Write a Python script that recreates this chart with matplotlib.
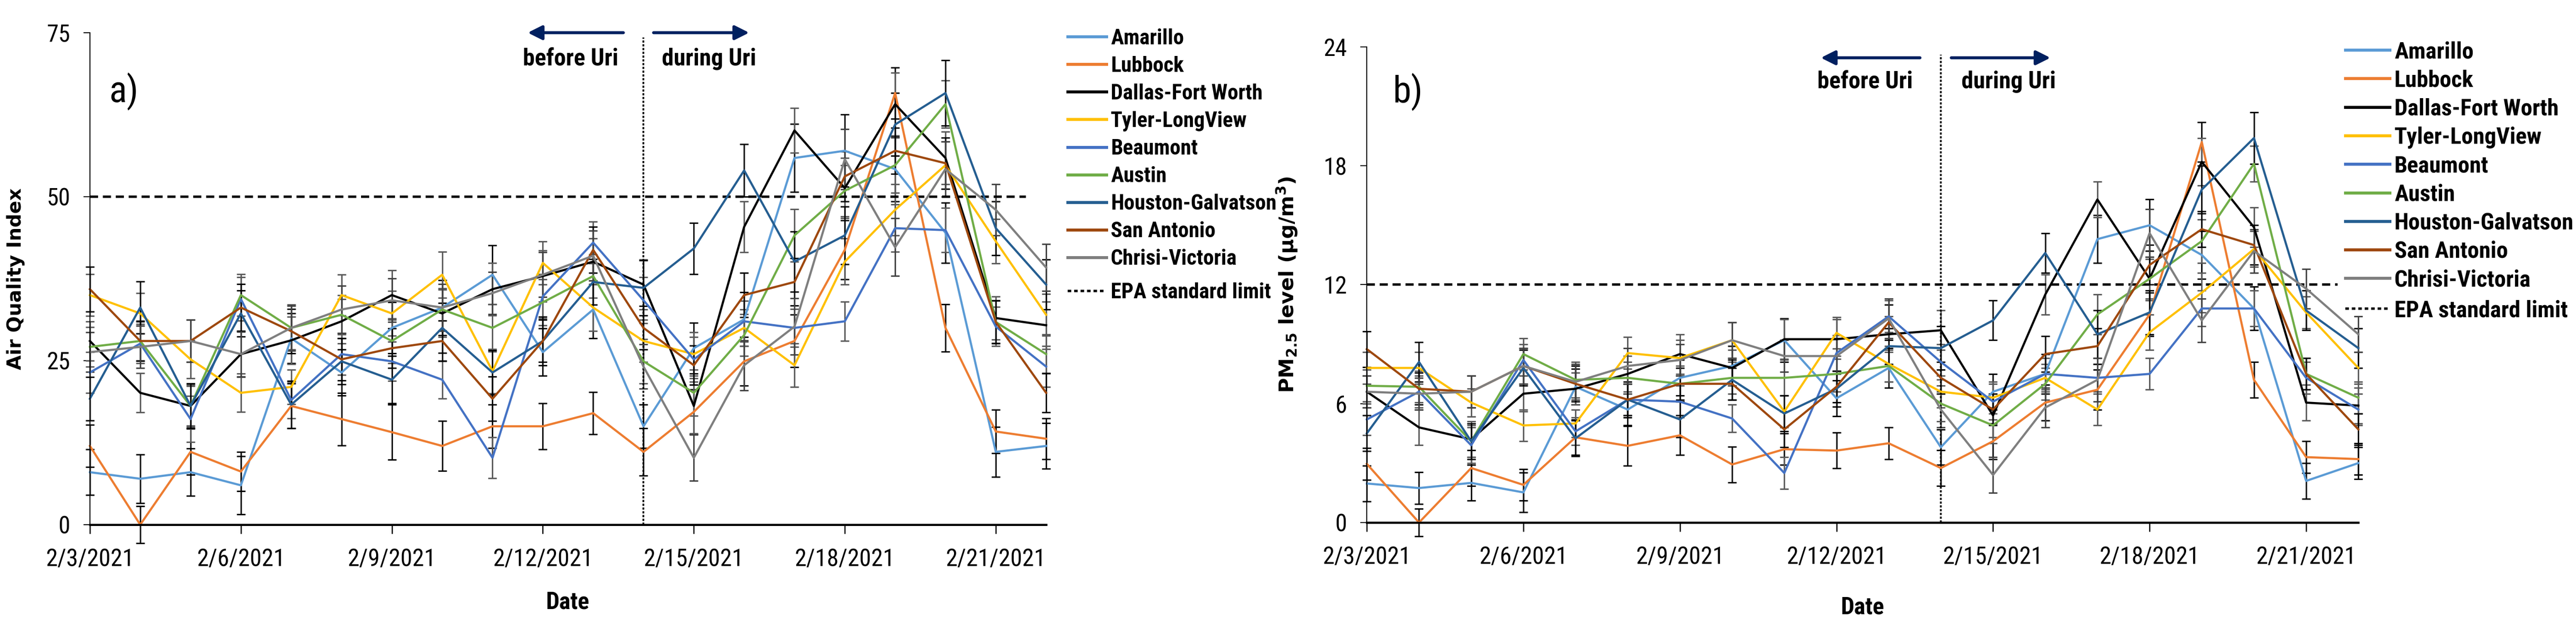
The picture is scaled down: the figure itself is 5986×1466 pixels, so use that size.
import matplotlib
matplotlib.use('Agg')
import matplotlib.pyplot as plt
from matplotlib.lines import Line2D
from matplotlib import font_manager

# pick a narrow font if one is installed, otherwise Liberation Sans at a smaller size
installed = {f.name for f in font_manager.fontManager.ttflist}
NARROW = ['Liberation Sans', 'DejaVu Sans']
SCALE = 0.85
for cand in ['Liberation Sans Narrow', 'Arial Narrow', 'Roboto Condensed', 'Open Sans Condensed']:
    if cand in installed:
        NARROW = [cand, 'DejaVu Sans']
        SCALE = 1.0
        break
WIDE = ['DejaVu Sans']


def fs(n):
    return n * SCALE


dates = ['2/3/2021', '2/4/2021', '2/5/2021', '2/6/2021', '2/7/2021', '2/8/2021', '2/9/2021',
         '2/10/2021', '2/11/2021', '2/12/2021', '2/13/2021', '2/14/2021', '2/15/2021', '2/16/2021',
         '2/17/2021', '2/18/2021', '2/19/2021', '2/20/2021', '2/21/2021', '2/22/2021']
cities = ['Amarillo', 'Lubbock', 'Dallas-Fort Worth', 'Tyler-LongView', 'Beaumont', 'Austin',
          'Houston-Galvatson', 'San Antonio', 'Chrisi-Victoria']
colors = ['#5B9BD5', '#ED7D31', '#000000', '#FFC000', '#4472C4', '#70AD47', '#255E91', '#9E480E', '#7F7F7F']
ecolors = ['#000000', '#000000', '#595959', '#595959', '#595959', '#595959', '#000000', '#000000', '#404040']

# a) air quality index
aqi = {
    'Amarillo':          [8.0, 7.0, 8.0, 6.0, 28.4, 23.2, 30.0, 33.1, 38.1, 26.3, 32.8, 15.0, 26.9, 31.3, 55.9, 57.0, 54.2, 44.5, 11.1, 12.0],
    'Lubbock':           [12.0, 0.0, 11.1, 8.1, 18.1, 16.1, 14.1, 12.0, 15.0, 15.0, 17.0, 11.1, 17.2, 24.9, 28.0, 41.9, 65.8, 30.0, 14.2, 13.1],
    'Dallas-Fort Worth': [28.0, 20.1, 18.1, 26.0, 28.1, 31.0, 35.0, 32.2, 35.9, 37.9, 40.1, 36.6, 18.1, 45.4, 60.1, 51.3, 64.1, 55.9, 31.5, 30.4],
    'Tyler-LongView':    [35.0, 32.2, 25.2, 20.1, 21.0, 35.0, 32.2, 38.1, 23.4, 39.9, 33.1, 28.0, 26.0, 30.0, 24.3, 40.1, 48.0, 54.8, 43.2, 32.0],
    'Beaumont':          [23.2, 27.6, 16.1, 34.4, 19.0, 26.0, 24.9, 22.1, 10.2, 34.8, 43.0, 34.2, 25.2, 31.0, 30.0, 31.0, 45.2, 44.9, 30.2, 24.1],
    'Austin':            [27.1, 28.0, 18.1, 35.0, 30.0, 32.0, 28.0, 32.8, 30.0, 33.9, 37.9, 24.9, 20.1, 28.9, 44.1, 50.9, 54.8, 64.1, 30.9, 26.0],
    'Houston-Galvatson': [19.2, 33.1, 18.1, 32.2, 18.3, 24.9, 22.1, 30.0, 23.2, 28.0, 37.0, 36.1, 42.1, 54.0, 40.1, 44.1, 61.0, 65.8, 45.2, 36.6],
    'San Antonio':       [35.9, 28.0, 28.0, 33.1, 29.5, 25.2, 26.9, 28.0, 19.2, 28.0, 41.9, 30.0, 24.3, 35.0, 37.0, 53.1, 57.0, 55.1, 30.9, 20.1],
    'Chrisi-Victoria':   [26.3, 27.1, 28.0, 26.0, 30.0, 32.8, 34.2, 33.1, 35.3, 38.1, 41.0, 24.1, 10.2, 24.3, 30.2, 55.7, 42.3, 54.2, 48.0, 39.2],
}
aqi_err = {
    'Amarillo':          [3.5, 3.7, 3.6, 4.4, 3.8, 3.5, 3.9, 4.2, 4.5, 3.6, 4.4, 3.3, 3.9, 4.1, 5.2, 5.5, 4.9, 4.6, 3.8, 3.5],
    'Lubbock':           [3.2, 2.8, 3.5, 3.0, 3.4, 4.0, 4.2, 3.8, 3.3, 3.5, 3.2, 3.6, 3.4, 3.7, 4.0, 4.5, 3.9, 3.6, 3.3, 3.1],
    'Dallas-Fort Worth': [3.0, 3.0, 3.2, 3.5, 3.6, 3.4, 3.8, 3.6, 4.0, 3.9, 3.5, 3.8, 4.2, 3.9, 3.4, 4.6, 4.8, 4.0, 3.3, 3.6],
    'Tyler-LongView':    [3.2, 3.1, 2.9, 2.9, 2.6, 3.1, 3.4, 3.5, 3.4, 3.3, 3.6, 3.2, 3.3, 2.8, 3.3, 3.5, 3.9, 3.6, 3.4, 3.2],
    'Beaumont':          [3.1, 3.0, 3.5, 3.3, 2.8, 3.2, 3.0, 2.9, 3.1, 3.4, 3.2, 3.5, 3.4, 3.1, 2.9, 3.0, 3.6, 3.4, 3.0, 3.1],
    'Austin':            [3.0, 3.1, 3.0, 3.2, 3.3, 3.0, 3.4, 3.2, 3.6, 3.5, 3.3, 3.4, 3.5, 3.2, 4.0, 3.9, 4.2, 3.6, 3.2, 3.0],
    'Houston-Galvatson': [3.3, 4.0, 3.4, 3.5, 3.6, 3.5, 3.6, 3.8, 3.4, 3.7, 3.5, 4.2, 3.9, 4.0, 4.6, 4.4, 4.8, 5.0, 4.1, 3.8],
    'San Antonio':       [3.4, 3.0, 3.2, 3.6, 3.4, 3.2, 3.0, 3.1, 3.4, 3.2, 3.5, 3.3, 3.0, 3.4, 3.6, 3.8, 3.5, 3.9, 3.3, 3.0],
    'Chrisi-Victoria':   [3.0, 3.2, 3.2, 3.4, 3.5, 3.6, 3.3, 3.6, 3.2, 3.4, 3.8, 3.4, 3.5, 3.8, 4.3, 4.6, 4.4, 4.2, 3.9, 3.6],
}

# b) PM2.5
pm = {
    'Amarillo':          [1.97, 1.74, 2.0, 1.52, 6.85, 5.7, 7.3, 7.9, 9.2, 6.27, 7.8, 3.8, 6.6, 7.5, 14.3, 15.0, 13.5, 10.8, 2.1, 3.0],
    'Lubbock':           [2.96, 0.0, 2.75, 1.9, 4.3, 3.87, 4.4, 2.93, 3.7, 3.63, 4.0, 2.75, 4.1, 6.05, 6.7, 10.5, 19.2, 7.2, 3.3, 3.2],
    'Dallas-Fort Worth': [6.6, 4.8, 4.2, 6.5, 6.75, 7.5, 8.5, 7.8, 9.25, 9.25, 9.5, 9.7, 5.4, 11.5, 16.3, 12.3, 18.2, 14.9, 6.05, 5.9],
    'Tyler-LongView':    [7.8, 7.8, 6.05, 4.9, 5.0, 8.55, 8.3, 9.2, 5.6, 9.57, 8.0, 6.6, 6.3, 7.3, 5.7, 9.6, 11.6, 13.8, 10.6, 7.8],
    'Beaumont':          [5.2, 6.6, 3.9, 8.2, 4.6, 6.2, 6.1, 5.25, 2.5, 8.55, 10.4, 8.1, 6.1, 7.5, 7.3, 7.5, 10.8, 10.8, 7.3, 5.7],
    'Austin':            [6.9, 6.85, 4.1, 8.5, 7.2, 7.3, 7.0, 7.3, 7.3, 7.5, 7.9, 6.0, 4.9, 7.0, 10.5, 12.3, 14.2, 18.1, 7.5, 6.3],
    'Houston-Galvatson': [4.5, 8.1, 4.1, 7.8, 4.25, 6.2, 5.2, 7.2, 5.5, 6.75, 8.9, 8.8, 10.2, 13.6, 9.5, 10.6, 16.8, 19.4, 10.7, 8.8],
    'San Antonio':       [8.75, 6.75, 6.6, 7.9, 7.0, 6.2, 7.0, 7.0, 4.7, 6.85, 10.1, 7.3, 5.7, 8.5, 8.9, 13.0, 14.8, 14.0, 7.5, 4.7],
    'Chrisi-Victoria':   [6.6, 6.5, 6.6, 7.9, 7.1, 7.9, 8.2, 9.2, 8.4, 8.4, 10.3, 5.7, 2.4, 5.8, 7.2, 14.6, 10.2, 13.7, 11.8, 9.5],
}
pm_err = {
    'Amarillo':          [0.9, 0.8, 0.9, 1.0, 0.9, 0.8, 0.9, 1.0, 1.1, 0.9, 1.0, 0.9, 0.9, 1.0, 1.2, 1.3, 1.2, 1.1, 0.9, 0.8],
    'Lubbock':           [0.8, 0.7, 0.9, 0.8, 0.9, 1.0, 1.0, 0.9, 0.8, 0.9, 0.8, 0.9, 0.9, 0.9, 1.0, 1.1, 1.0, 0.9, 0.8, 0.8],
    'Dallas-Fort Worth': [0.8, 0.9, 0.9, 0.9, 0.8, 0.9, 1.0, 0.9, 1.0, 1.0, 0.9, 1.0, 1.1, 1.0, 0.9, 1.1, 1.2, 1.0, 0.9, 0.9],
    'Tyler-LongView':    [0.8, 0.8, 0.7, 0.8, 0.7, 0.8, 0.9, 0.9, 0.8, 0.8, 0.9, 0.8, 0.8, 0.7, 0.8, 0.9, 1.0, 0.9, 0.8, 0.8],
    'Beaumont':          [0.8, 0.8, 0.9, 0.8, 0.7, 0.8, 0.8, 0.7, 0.8, 0.9, 0.8, 0.9, 0.9, 0.8, 0.7, 0.8, 0.9, 0.9, 0.8, 0.8],
    'Austin':            [0.8, 0.8, 0.8, 0.8, 0.9, 0.8, 0.9, 0.8, 0.9, 0.9, 0.8, 0.9, 0.9, 0.8, 1.0, 1.0, 1.1, 0.9, 0.8, 0.8],
    'Houston-Galvatson': [0.9, 1.0, 0.9, 0.9, 0.9, 0.9, 0.9, 1.0, 0.9, 0.9, 0.9, 1.1, 1.0, 1.0, 1.2, 1.1, 1.2, 1.3, 1.0, 1.0],
    'San Antonio':       [0.9, 0.8, 0.8, 0.9, 0.9, 0.8, 0.8, 0.8, 0.9, 0.8, 0.9, 0.8, 0.8, 0.9, 0.9, 1.0, 0.9, 1.0, 0.8, 0.8],
    'Chrisi-Victoria':   [0.8, 0.8, 0.8, 0.9, 0.9, 0.9, 0.8, 0.9, 0.8, 0.9, 1.0, 0.9, 0.9, 1.0, 1.1, 1.2, 1.1, 1.1, 1.0, 0.9],
}

epa_a = 50
epa_b = 12
uri_day = 11
tick_days = list(range(0, 20, 3))


def draw_panel(ax, data, errs, ylim, yticks, epa, ylabel, ylabel_size, panel, panel_xy,
               arrow_y, text_y, vtop):
    x = list(range(len(dates)))
    for c, col, ecol in zip(cities, colors, ecolors):
        cont = ax.errorbar(x, data[c], yerr=errs[c], color=col, lw=3.6, ecolor=ecol,
                           elinewidth=2.4, capsize=7, capthick=2.4, label=c)
        for art in cont.get_children():
            art.set_clip_on(False)
    ax.plot([0, 18.6], [epa, epa], color='black', lw=4, dashes=(3.4, 2.0))
    ax.plot([uri_day, uri_day], [0, vtop], color='black', lw=3, dashes=(1.2, 0.9))

    ax.set_xlim(0, 19)
    ax.set_ylim(*ylim)
    ax.set_yticks(yticks)
    ax.set_xticks(tick_days)
    ax.set_xticklabels([dates[i] for i in tick_days])
    for s in ['top', 'right']:
        ax.spines[s].set_visible(False)
    ax.spines['left'].set_linewidth(1.6)
    ax.spines['bottom'].set_linewidth(3.6)
    ax.tick_params(axis='x', length=15, width=2, pad=24, labelsize=fs(40))
    ax.tick_params(axis='y', length=11, width=1.6, pad=22, labelsize=fs(40))
    for lab in ax.get_xticklabels() + ax.get_yticklabels():
        lab.set_family(NARROW)

    ax.set_ylabel(ylabel, fontsize=ylabel_size, fontweight='bold', family=WIDE)
    ax.yaxis.set_label_coords(-0.068, 0.5)
    ax.set_xlabel('Date', fontsize=fs(40), fontweight='bold', family=NARROW)

    ax.text(panel_xy[0], panel_xy[1], panel, transform=ax.transAxes, fontsize=fs(62), family=NARROW,
            ha='left', va='center')

    arrow = dict(arrowstyle='-|>', lw=5, color='#002060', mutation_scale=50, shrinkA=0, shrinkB=0)
    ax.annotate('', xy=(8.7, arrow_y), xytext=(10.6, arrow_y), arrowprops=arrow, annotation_clip=False)
    ax.annotate('', xy=(13.1, arrow_y), xytext=(11.2, arrow_y), arrowprops=arrow, annotation_clip=False)
    ax.text(9.55, text_y, 'before Uri', fontsize=fs(40), fontweight='bold', family=NARROW,
            ha='center', va='center')
    ax.text(12.3, text_y, 'during Uri', fontsize=fs(40), fontweight='bold', family=NARROW,
            ha='center', va='center')


fig = plt.figure(figsize=(59.86, 14.66), dpi=100)
ax1 = fig.add_axes([0.0349, 0.1685, 0.3712, 0.7797])
ax2 = fig.add_axes([0.5306, 0.1719, 0.3849, 0.7538])

draw_panel(ax1, aqi, aqi_err, (0, 75), [0, 25, 50, 75], epa_a, 'Air Quality Index', 32, 'a)',
           (0.02, 0.88), 75, 71, 74.3)
draw_panel(ax2, pm, pm_err, (0, 24), [0, 6, 12, 18, 24], epa_b,
           r'PM$_{\mathbf{2.5}}$ level (µg/m$^{\mathbf{3}}$)', 34, 'b)', (0.026, 0.905),
           23.45, 22.25, 23.6)

ax1.xaxis.set_label_coords(0.5, -0.135)
ax2.xaxis.set_label_coords(0.5, -0.155)

# legends: cities, then the EPA entry a little lower
for ax, x0, top, epa_top, size, hl, sp in [(ax1, 0.4145, 0.955, 0.5525, 36, 1.8, 0.34),
                                          (ax2, 0.9105, 0.935, 0.525, 39, 1.9, 0.28)]:
    prop = {'family': NARROW, 'size': fs(size), 'weight': 'bold'}
    handles = [Line2D([], [], color=col, lw=5) for col in colors]
    leg = ax.legend(handles, cities, loc='upper left', bbox_to_anchor=(x0, top),
                    bbox_transform=fig.transFigure, frameon=False, prop=prop,
                    handlelength=hl / SCALE, handletextpad=0.2, labelspacing=sp / SCALE,
                    borderpad=0, borderaxespad=0)
    ax.add_artist(leg)
    epa_handle = Line2D([], [], color='black', lw=4, dashes=(1.5, 1.2))
    ax.legend([epa_handle], ['EPA standard limit'], loc='upper left', bbox_to_anchor=(x0, epa_top),
              bbox_transform=fig.transFigure, frameon=False, prop=prop,
              handlelength=hl / SCALE, handletextpad=0.2, borderpad=0, borderaxespad=0)

fig.savefig('out.png', dpi=100, facecolor='white')
